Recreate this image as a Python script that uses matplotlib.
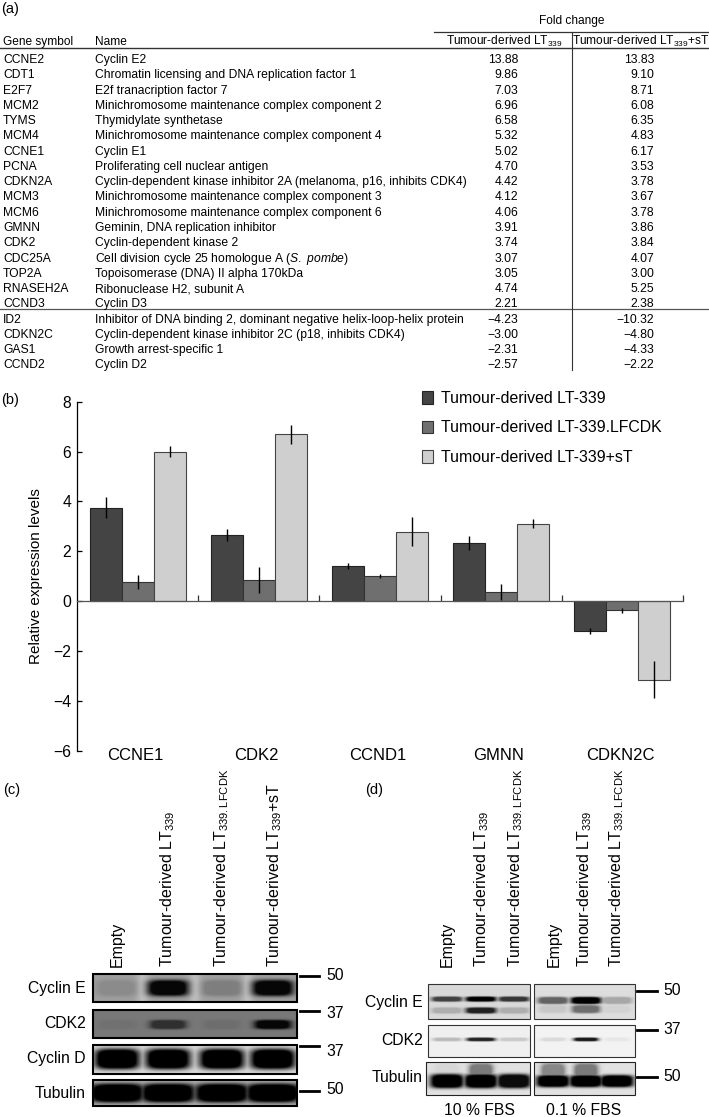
import matplotlib
matplotlib.use("Agg")
import matplotlib.pyplot as plt
from matplotlib.patches import Rectangle
import numpy as np

plt.rcParams['font.family'] = ['Liberation Sans', 'DejaVu Sans']
plt.rcParams['mathtext.fontset'] = 'custom'
plt.rcParams['mathtext.rm'] = 'Liberation Sans'
plt.rcParams['mathtext.it'] = 'Liberation Sans:italic'
plt.rcParams['mathtext.default'] = 'regular'

# (a) table
symbols = ['CCNE2', 'CDT1', 'E2F7', 'MCM2', 'TYMS', 'MCM4', 'CCNE1', 'PCNA', 'CDKN2A', 'MCM3',
           'MCM6', 'GMNN', 'CDK2', 'CDC25A', 'TOP2A', 'RNASEH2A', 'CCND3',
           'ID2', 'CDKN2C', 'GAS1', 'CCND2']
names = ['Cyclin E2',
         'Chromatin licensing and DNA replication factor 1',
         'E2f tranacription factor 7',
         'Minichromosome maintenance complex component 2',
         'Thymidylate synthetase',
         'Minichromosome maintenance complex component 4',
         'Cyclin E1',
         'Proliferating cell nuclear antigen',
         'Cyclin-dependent kinase inhibitor 2A (melanoma, p16, inhibits CDK4)',
         'Minichromosome maintenance complex component 3',
         'Minichromosome maintenance complex component 6',
         'Geminin, DNA replication inhibitor',
         'Cyclin-dependent kinase 2',
         'Cell division cycle 25 homologue A ($\\mathit{S.}$ $\\mathit{pombe}$)',
         'Topoisomerase (DNA) II alpha 170kDa',
         'Ribonuclease H2, subunit A',
         'Cyclin D3',
         'Inhibitor of DNA binding 2, dominant negative helix-loop-helix protein',
         'Cyclin-dependent kinase inhibitor 2C (p18, inhibits CDK4)',
         'Growth arrest-specific 1',
         'Cyclin D2']
fold_lt = [13.88, 9.86, 7.03, 6.96, 6.58, 5.32, 5.02, 4.70, 4.42, 4.12, 4.06, 3.91, 3.74, 3.07,
           3.05, 4.74, 2.21, -4.23, -3.00, -2.31, -2.57]
fold_st = [13.83, 9.10, 8.71, 6.08, 6.35, 4.83, 6.17, 3.53, 3.78, 3.67, 3.78, 3.86, 3.84, 4.07,
           3.00, 5.25, 2.38, -10.32, -4.80, -4.33, -2.22]

# (b) bars
genes = ['CCNE1', 'CDK2', 'CCND1', 'GMNN', 'CDKN2C']
lt339 = [3.75, 2.65, 1.40, 2.33, -1.20]
lt339_err = [0.43, 0.25, 0.13, 0.28, 0.12]
lfcdk = [0.75, 0.85, 1.00, 0.38, -0.37]
lfcdk_err = [0.28, 0.53, 0.07, 0.32, 0.10]
lt339st = [6.00, 6.70, 2.78, 3.10, -3.15]
lt339st_err = [0.22, 0.38, 0.58, 0.18, 0.75]

# (c) blot band strengths per lane (0 = nothing, 1 = black)
c_cycline = [0.12, 0.95, 0.20, 0.95]
c_cdk2 = [0.06, 0.60, 0.08, 0.95]
c_cyclind = [1.0, 1.0, 1.0, 1.0]
c_tubulin = [1.0, 1.0, 1.0, 1.0]

# (d) blot band strengths per lane
d_cycline_l = [0.70, 1.0, 0.75]
d_cycline_l2 = [0.20, 0.85, 0.20]
d_cycline_r = [0.55, 1.0, 0.25]
d_cycline_r2 = [0.10, 0.50, 0.05]
d_cdk2_l = [0.22, 0.85, 0.16]
d_cdk2_r = [0.10, 0.90, 0.05]
d_tub_l = [1.0, 1.0, 0.95]
d_tub_r = [1.0, 1.0, 1.0]
d_smear_l = [0.05, 0.45, 0.0]
d_smear_r = [0.40, 0.45, 0.0]

W, H = 709, 1117
fig = plt.figure(figsize=(W / 100, H / 100), dpi=100)
ax = fig.add_axes([0, 0, 1, 1])
ax.axis('off')


def blot(x0, x1, y0, y1, centers, bands, bg, lw=1.5, edge='black', gap=None):
    # bands: (y fraction, strengths, half width px, half height px)
    xs = np.linspace(x0, x1, int(x1 - x0) * 2)
    ys = np.linspace(y0, y1, int(y1 - y0) * 2)
    xx, yy = np.meshgrid(xs, ys)
    dark = np.zeros_like(xx)
    for yf, levels, bw, bh in bands:
        yc = y0 + yf * (y1 - y0)
        for c, lev in zip(centers, levels):
            d = lev * np.clip(1.6 * np.exp(-((xx - c) / bw) ** 4 - ((yy - yc) / bh) ** 4), 0, 1)
            dark = np.maximum(dark, d)
    base = np.full_like(xx, bg)
    if gap is not None:
        # lighter strip between the lanes
        for a, b in zip(centers[:-1], centers[1:]):
            m = (a + b) / 2
            base = base + (gap - bg) * np.exp(-((xx - m) / 6) ** 2)
    img = base * (1 - dark)
    ax.imshow(img, extent=(x0, x1, y1, y0), cmap='gray', vmin=0, vmax=1, aspect='auto',
              interpolation='bilinear')
    ax.add_patch(Rectangle((x0, y0), x1 - x0, y1 - y0, fill=False, ec=edge, lw=lw))


# table
tfs = 8.75
row_y0, pitch = 60, 15.27
ax.text(1, 9.5, '(a)', fontsize=10.5, va='center')
ax.text(572, 20.7, 'Fold change', fontsize=8.6, ha='center', va='center')
ax.text(3, 42, 'Gene symbol', fontsize=8.6, va='center')
ax.text(95, 42, 'Name', fontsize=8.6, va='center')
ax.text(446, 41, 'Tumour-derived LT$_{339}$', fontsize=8.6, va='center')
ax.text(572.5, 41, 'Tumour-derived LT$_{339}$+sT', fontsize=8.6, va='center')
for i in range(len(symbols)):
    y = row_y0 + i * pitch
    ax.text(3, y, symbols[i], fontsize=tfs, va='center')
    ax.text(95, y, names[i], fontsize=tfs, va='center')
    ax.text(518, y, f'{fold_lt[i]:.2f}'.replace('-', '\u2212'), fontsize=tfs, va='center', ha='right')
    ax.text(654, y, f'{fold_st[i]:.2f}'.replace('-', '\u2212'), fontsize=tfs, va='center', ha='right')
ax.plot([434, 709], [32, 32], color='#333333', lw=0.9)
ax.plot([0, 709], [48.3, 48.3], color='#333333', lw=1.0)
ax.plot([0, 709], [309.3, 309.3], color='#555555', lw=0.9)
ax.plot([571.5, 571.5], [32, 370], color='#333333', lw=0.8)

# panel labels
ax.text(1, 400, '(b)', fontsize=10.5, va='center')
ax.text(3, 790, '(c)', fontsize=10.5, va='center')
ax.text(365, 790, '(d)', fontsize=10.5, va='center')

# (c)
lanes_c = [117, 168, 222, 273]
blot(93, 297, 974, 1002, lanes_c, [(0.5, c_cycline, 20, 8)], 0.62, gap=0.74)
blot(93, 297, 1010, 1037.7, lanes_c, [(0.52, c_cdk2, 18, 4.5)], 0.47)
blot(93, 297, 1044.7, 1074, lanes_c, [(0.5, c_cyclind, 22, 10)], 0.86)
blot(93, 297, 1080, 1106, lanes_c, [(0.5, c_tubulin, 27, 9.5)], 0.72)
for lab, y in zip(['Cyclin E', 'CDK2', 'Cyclin D', 'Tubulin'], [989, 1024, 1059, 1093]):
    ax.text(86, y, lab, fontsize=11.3, ha='right', va='center')
for y in [975.7, 1011, 1045.7, 1090.7]:
    ax.plot([300, 319], [y, y], color='black', lw=2)
for lab, y in zip(['50', '37', '37', '50'], [975.7, 1014, 1052, 1090]):
    ax.text(326, y, lab, fontsize=11.3, va='center')
lab_c = ['Empty', 'Tumour-derived LT$_{339}$', 'Tumour-derived LT$_{339{.}LFCDK}$', 'Tumour-derived LT$_{339}$+sT']
for x, lab in zip([117, 168, 222, 275], lab_c):
    ax.text(x, 967, lab, fontsize=11.5, rotation=90, ha='center', va='bottom')

# (d)
lanes_l = [447, 481, 514]
lanes_r = [553, 586, 617]
blot(428, 530, 984, 1019, lanes_l, [(0.43, d_cycline_l, 15, 2.5), (0.76, d_cycline_l2, 15, 3)], 0.85, lw=0.8, edge='#333333')
blot(534, 635, 984, 1019, lanes_r, [(0.47, d_cycline_r, 15, 3.5), (0.72, d_cycline_r2, 14, 4)], 0.87, lw=0.8, edge='#333333')
blot(428, 530, 1025, 1056.7, lanes_l, [(0.45, d_cdk2_l, 14, 1.8)], 0.94, lw=0.8, edge='#333333')
blot(534, 635, 1025, 1056.7, lanes_r, [(0.45, d_cdk2_r, 12, 1.8)], 0.95, lw=0.8, edge='#333333')
blot(426, 530, 1062, 1095, lanes_l, [(0.58, d_tub_l, 16.5, 7), (0.28, d_smear_l, 12, 8)], 0.88, lw=0.8, edge='#222222')
blot(534, 635, 1062, 1095, lanes_r, [(0.58, d_tub_r, 16.5, 6), (0.28, d_smear_r, 12, 8)], 0.88, lw=0.8, edge='#222222')
for lab, y in zip(['Cyclin E', 'CDK2', 'Tubulin'], [1002.7, 1040.7, 1078]):
    ax.text(423, y, lab, fontsize=11.3, ha='right', va='center')
for y in [990.7, 1030, 1076.7]:
    ax.plot([637, 657], [y, y], color='black', lw=2)
for lab, y in zip(['50', '37', '50'], [990.7, 1029, 1076.7]):
    ax.text(663, y, lab, fontsize=11.3, va='center')
lab_d = ['Empty', 'Tumour-derived LT$_{339}$', 'Tumour-derived LT$_{339{.}LFCDK}$'] * 2
for x, lab in zip([447, 482, 516, 554, 585, 617], lab_d):
    ax.text(x, 967, lab, fontsize=11.5, rotation=90, ha='center', va='bottom')
ax.text(479, 1110.7, '10 % FBS', fontsize=11.3, ha='center', va='center')
ax.text(584, 1110.7, '0.1 % FBS', fontsize=11.3, ha='center', va='center')

ax.set_xlim(0, W)
ax.set_ylim(H, 0)

# (b) bar chart
left, right, top, bottom = 77, 683, 401.7, 750.7
bx = fig.add_axes([left / W, 1 - bottom / H, (right - left) / W, (bottom - top) / H])
bx.patch.set_alpha(0)
x = np.arange(len(genes))
bw = 0.264
ek = dict(ecolor='black', elinewidth=1, capsize=0)
b1 = bx.bar(x - bw, lt339, bw, yerr=lt339_err, color='#444444', edgecolor='#222222', lw=0.8, error_kw=ek,
            label='Tumour-derived LT-339')
b2 = bx.bar(x, lfcdk, bw, yerr=lfcdk_err, color='#6f6f6f', edgecolor='#333333', lw=0.8, error_kw=ek,
            label='Tumour-derived LT-339.LFCDK')
b3 = bx.bar(x + bw, lt339st, bw, yerr=lt339st_err, color='#cfcfcf', edgecolor='#444444', lw=0.8, error_kw=ek,
            label='Tumour-derived LT-339+sT')
bx.set_xlim(-0.5, 4.5)
bx.set_ylim(-6, 8)
bx.set_yticks([-6, -4, -2, 0, 2, 4, 6, 8])
bx.set_yticklabels(['\u22126', '\u22124', '\u22122', '0', '2', '4', '6', '8'])
bx.tick_params(axis='y', direction='in', labelsize=11.3, length=3.6, width=0.9, pad=4.3)
bx.set_xticks(x[:-1] + 0.5)
bx.set_xticks([4.5], minor=True)
bx.tick_params(axis='x', which='both', direction='in', length=4, width=0.9, labelbottom=False,
               color='#333333')
for s in ['top', 'right']:
    bx.spines[s].set_visible(False)
bx.spines['bottom'].set_position(('data', 0))
bx.spines['bottom'].set_linewidth(0.9)
bx.spines['bottom'].set_color('#555555')
bx.spines['left'].set_linewidth(0.9)
bx.set_ylabel('Relative expression levels', fontsize=11, labelpad=7)
for i, g in enumerate(genes):
    bx.text(i - 0.02, -6.2, g, fontsize=12, ha='center', va='center')
bx.legend(handles=[b1, b2, b3], loc='upper left', bbox_to_anchor=(0.57, 1.03), frameon=False,
          fontsize=11.4, handlelength=0.65, handleheight=0.85, handletextpad=0.5, labelspacing=0.9,
          borderpad=0, borderaxespad=0)

fig.savefig('out.png', dpi=100)
